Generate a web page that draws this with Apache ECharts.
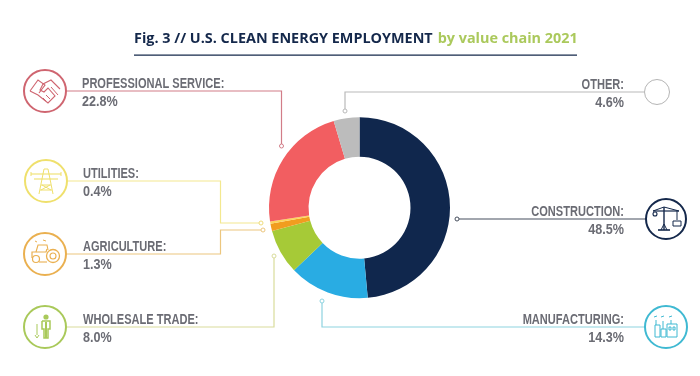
<!DOCTYPE html>
<html>
<head>
<meta charset="utf-8">
<style>html,body{margin:0;padding:0;background:#fff}#chart{width:700px;height:376px}</style>
<script src="https://cdn.jsdelivr.net/npm/echarts@6/dist/echarts.min.js"></script>
</head>
<body>
<div id="chart"></div>
<script>
// data, clockwise from 12 o'clock
const categories = ['CONSTRUCTION', 'MANUFACTURING', 'WHOLESALE TRADE', 'AGRICULTURE', 'UTILITIES', 'PROFESSIONAL SERVICE', 'OTHER'];
const shares = [48.5, 14.3, 8.0, 1.3, 0.4, 22.8, 4.6];
const sliceColors = ['#10274d', '#29ace3', '#a6ca37', '#f19d1f', '#fcd55a', '#f25e61', '#bcbcbc'];
const ringColors = ['#14284b', '#3fb9d2', '#a9c95a', '#eab050', '#efe06c', '#cf6570', '#b5b5b5'];
const lineColors = ['#474f5e', '#8ed3e0', '#d9dc9c', '#ecc67e', '#f3e88f', '#d27d88', '#b9b9b9'];

// leader lines + label spots (annotation layout only)
const ringCenters = [[666, 219, 20], [666, 327, 21], [45, 327, 21], [45, 254, 21], [46, 181, 21], [45, 91, 21], [657, 92, 12.5]];
const leaderPaths = [
  [[646, 219], [459, 219]],
  [[645, 327], [322, 327], [322, 303]],
  [[66, 327], [274, 327], [274, 258]],
  [[66, 254], [220.5, 254], [220.5, 230], [261, 230]],
  [[67, 181], [220.5, 181], [220.5, 223], [259, 223]],
  [[66, 91], [281.5, 91], [281.5, 144]],
  [[644.5, 92], [345, 92], [345, 109]]
];
const leaderEnds = [[457, 219], [322, 301], [274, 256], [263, 230], [261, 223], [281.5, 146], [345, 111]];
const labelSpots = [[624, 219], [624, 327], [83, 327], [83, 254], [83, 181], [82, 91], [624, 92]];

const textColor = '#6b6c74';
const labelFont = '"Liberation Sans", sans-serif';

function stroke(points, color, width) {
  return { type: 'polyline', shape: { points }, style: { stroke: color, lineWidth: width || 1, fill: null }, silent: true };
}
function circ(cx, cy, r, color, width) {
  return { type: 'circle', shape: { cx, cy, r }, style: { stroke: color, lineWidth: width || 1, fill: '#fff' }, silent: true };
}
function box(x, y, width, height, color) {
  return { type: 'rect', shape: { x, y, width, height }, style: { stroke: color, lineWidth: 1, fill: null }, silent: true };
}
function shifted(cx, cy, children) {
  return { type: 'group', x: cx, y: cy, silent: true, children };
}

// rough line icons, drawn around 0,0
const iconMakers = [
  c => [
    stroke([[-13, -8], [13, -8]], c, 1.2), stroke([[-2, -12], [-2, 11]], c, 1.4), stroke([[-2, -12], [-13, -8]], c, 1),
    stroke([[-2, -12], [13, -8]], c, 1), stroke([[-8, 11], [4, 11]], c, 1.6), stroke([[-5, 11], [-2, 5], [1, 11]], c, 1),
    circ(-11, -5, 2, c, 1.1), stroke([[11, -8], [11, 1]], c, 1), box(7, 2, 8, 5, c)
  ],
  c => [
    box(-11, -2, 5, 12, c), box(-5, 2, 5, 8, c), box(1, -3, 10, 13, c), box(3, 0, 2, 3, c), box(7, 0, 2, 3, c),
    stroke([[-10, -2], [-10, -7]], c, 1), stroke([[-3, 2], [-3, -6]], c, 1), stroke([[5, -3], [5, -7]], c, 1),
    stroke([[-12, -10], [-9, -11]], c, 1), stroke([[-5, -10], [-2, -11]], c, 1), stroke([[3, -10], [6, -11]], c, 1)
  ],
  c => [
    { type: 'circle', shape: { cx: 1, cy: -10, r: 2.6 }, style: { fill: c }, silent: true },
    stroke([[-3, -6], [5, -6], [5, 2], [3, 2], [3, 11], [-1, 11], [-1, 2], [-3, 2], [-3, -6]], c, 1.5),
    stroke([[1, -5], [1, 11]], c, 2), stroke([[-8, -3], [-8, 8]], c, 1), stroke([[-10, 8], [-8, 11], [-6, 8]], c, 1)
  ],
  c => [
    circ(8, 2, 6.5, c, 1.3), circ(8, 2, 3, c, 1.1), circ(-9, 5, 3.5, c, 1.2),
    stroke([[-13, 4], [-13, -2], [1, -2], [2, -5]], c, 1.2), stroke([[-9, -2], [-7, -9], [2, -9], [3, -4]], c, 1.1),
    stroke([[-6, 8], [2, 8]], c, 1.1), stroke([[-10, -13], [-8, -12]], c, 1), stroke([[-2, -14], [1, -13]], c, 1)
  ],
  c => [
    stroke([[-7, 13], [-2, -12], [2, -12], [7, 13]], c, 1), stroke([[-5, 4], [5, 4]], c, 1), stroke([[-6, 9], [6, 9]], c, 1),
    stroke([[-4, 4], [5, 9]], c, 1), stroke([[4, 4], [-5, 9]], c, 1), stroke([[-15, -7], [15, -7]], c, 1.1),
    stroke([[-12, -2], [12, -2]], c, 1.1), stroke([[-15, -9], [-15, -5]], c, 1), stroke([[15, -9], [15, -5]], c, 1)
  ],
  c => [
    stroke([[-15, 0], [-7, -11], [0, -6], [-6, 2]], c, 1.1), stroke([[15, -2], [6, -11], [-2, -7], [-5, -1], [-1, 1], [3, -3], [10, 5], [3, 12], [-7, 4], [-15, 0]], c, 1.1),
    stroke([[6, -4], [13, 4]], c, 1), stroke([[1, 4], [5, 8]], c, 1), stroke([[-2, 7], [1, 10]], c, 1)
  ],
  () => []
];

const graphics = [
  { type: 'rect', shape: { x: 134, y: 54.5, width: 443, height: 1.2 }, style: { fill: '#14284b' }, silent: true }
];
categories.forEach((name, i) => {
  const [cx, cy, r] = ringCenters[i];
  const [tx, ty] = labelSpots[i];
  const align = tx > 360 ? 'right' : 'left';
  graphics.push(stroke(leaderPaths[i], lineColors[i], 1.2));
  graphics.push(circ(leaderEnds[i][0], leaderEnds[i][1], 2, lineColors[i] === '#f3e88f' ? '#eedc7a' : lineColors[i], 1));
  graphics.push(circ(cx, cy, r, ringColors[i], i === 6 ? 1 : 2));
  graphics.push(shifted(cx, cy, iconMakers[i](ringColors[i])));
  // no condensed face installed, so squeeze the text horizontally
  graphics.push({
    type: 'text', x: tx, y: ty, scaleX: 0.79, silent: true,
    style: { text: name + ':', fill: textColor, font: 'bold 14px ' + labelFont, align, verticalAlign: 'bottom' }
  });
  graphics.push({
    type: 'text', x: tx, y: ty + 18.5, scaleX: 0.9, silent: true,
    style: { text: shares[i].toFixed(1) + '%', fill: textColor, font: 'bold 14px ' + labelFont, align, verticalAlign: 'bottom' }
  });
});

const chart = echarts.init(document.getElementById('chart'));
chart.setOption({
  animation: false,
  backgroundColor: '#fff',
  title: {
    text: '{a|Fig. 3 // U.S. CLEAN ENERGY EMPLOYMENT} {b|by value chain 2021}',
    left: 134,
    top: 30,
    padding: 0,
    textStyle: {
      rich: {
        a: { fontFamily: 'Open Sans', fontWeight: 'bold', fontSize: 14.4, color: '#14284b' },
        b: { fontFamily: 'Open Sans', fontWeight: 'bold', fontSize: 14.4, color: '#abc95c' }
      }
    }
  },
  series: [{
    type: 'pie',
    center: [359.5, 207.7],
    radius: [51, 90.5],
    startAngle: 90,
    clockwise: true,
    avoidLabelOverlap: false,
    silent: true,
    label: { show: false },
    labelLine: { show: false },
    itemStyle: { borderWidth: 0 },
    data: categories.map((name, i) => ({ name, value: shares[i], itemStyle: { color: sliceColors[i] } }))
  }],
  graphic: { elements: graphics }
});
</script>
</body>
</html>
